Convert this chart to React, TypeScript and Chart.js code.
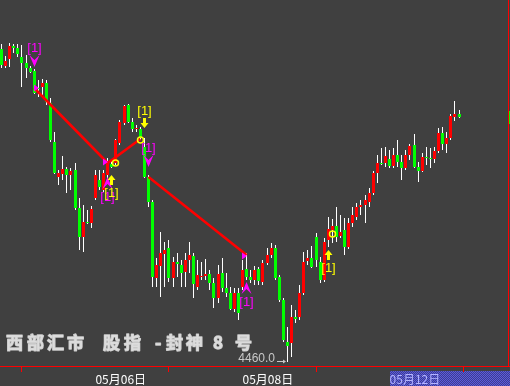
import React, { useEffect, useRef } from 'react';
import { Chart, registerables } from 'chart.js';

Chart.register(...registerables);

// ---- candle data (index 0..112) ----
const OPEN = [
  4616.5, 4608, 4611.5, 4618, 4617, 4612.5, 4609.5, 4607, 4605.5, 4597,
  4597.5, 4599.5, 4589.5, 4570, 4552.5, 4554, 4556.5, 4553.5, 4556, 4537,
  4522.5, 4530, 4529.5, 4542, 4551, 4546, 4553.5, 4559, 4559.5, 4569.5,
  4579.5, 4588.5, 4580, 4576.5, 4576.5, 4567.5, 4552.5, 4540, 4502, 4508,
  4514, 4517, 4502, 4510, 4508.5, 4505, 4511, 4513, 4497.5, 4502.5,
  4503, 4504, 4499.5, 4492, 4504.5, 4497, 4494.5, 4486.5, 4494.5, 4497.5,
  4506.5, 4502.5, 4501, 4506.5, 4500, 4509.5, 4513.5, 4517, 4502.5, 4491,
  4470, 4469.5, 4482.5, 4482.5, 4494.5, 4510.5, 4512, 4522.5, 4510, 4501,
  4521, 4526, 4528, 4523, 4526, 4517.5, 4529.5, 4532.5, 4537.5, 4538.5,
  4540, 4544.5, 4554.5, 4559.5, 4559.5, 4561.5, 4558, 4563.5, 4560, 4557,
  4563.5, 4568.5, 4557.5, 4555.5, 4562.5, 4562, 4561.5, 4565.5, 4574.5, 4569,
  4572, 4582.5, 4584,
];
const HIGH = [
  4619, 4613, 4619.5, 4619, 4619, 4618.5, 4613.5, 4608, 4606.5, 4601,
  4601.5, 4601, 4592, 4575, 4556, 4563, 4557.5, 4557, 4559.5, 4542,
  4538.5, 4536, 4538, 4556, 4556, 4556, 4562, 4561, 4571.5, 4581,
  4588.5, 4589, 4582, 4578.5, 4577.5, 4572, 4553.5, 4541, 4512, 4525,
  4520, 4521, 4512.5, 4514.5, 4511, 4514.5, 4520, 4514.5, 4511, 4510,
  4511.5, 4506, 4502, 4508.5, 4512, 4504.5, 4497.5, 4497, 4497, 4511,
  4514.5, 4506, 4508, 4507.5, 4511, 4517, 4519.5, 4518.5, 4503.5, 4492,
  4477.5, 4488.5, 4486, 4498.5, 4515, 4516, 4518, 4524.5, 4512.5, 4522,
  4532.5, 4531.5, 4537.5, 4533.5, 4532, 4532, 4537.5, 4539.5, 4541, 4543.5,
  4547, 4555.5, 4563.5, 4567, 4567.5, 4566, 4567, 4571, 4563.5, 4566,
  4569, 4574, 4560, 4564.5, 4567.5, 4567, 4567.5, 4577, 4577.5, 4575,
  4584, 4590.5, 4586,
];
const LOW = [
  4607, 4607, 4607.5, 4614.5, 4612.5, 4597.5, 4602, 4604.5, 4594, 4592.5,
  4592.5, 4588.5, 4570, 4554, 4548.5, 4551, 4544.5, 4546, 4536, 4516,
  4515, 4529, 4527, 4541, 4546, 4545, 4552, 4557, 4558.5, 4568.5,
  4578.5, 4579.5, 4575, 4575, 4571, 4552, 4537.5, 4497.5, 4497.5, 4492.5,
  4497.5, 4500, 4497.5, 4502.5, 4497.5, 4497.5, 4504.5, 4492, 4496, 4501,
  4501, 4496, 4487, 4489.5, 4495, 4492.5, 4486, 4485, 4481, 4496,
  4501, 4499.5, 4498.5, 4498.5, 4498.5, 4508.5, 4512, 4501, 4490, 4470,
  4460, 4462.5, 4479.5, 4481, 4493.5, 4508.5, 4507, 4507.5, 4499.5, 4500,
  4517.5, 4519.5, 4520, 4522, 4513.5, 4516.5, 4527.5, 4531, 4533.5, 4529.5,
  4537.5, 4543.5, 4549.5, 4558.5, 4557.5, 4557, 4557, 4557.5, 4551, 4556,
  4561, 4557, 4550, 4555, 4558.5, 4557, 4559.5, 4564.5, 4566, 4564.5,
  4571, 4580.5, 4582,
];
const CLOSE = [
  4608.5, 4610.5, 4618, 4617, 4614, 4609.5, 4607, 4605, 4594.5, 4596.5,
  4599.5, 4590, 4571, 4554.5, 4554.5, 4556.5, 4553.5, 4555.5, 4537, 4522.5,
  4530, 4529.5, 4536.5, 4553.5, 4547.5, 4554.5, 4560, 4557.5, 4571, 4580,
  4588, 4580, 4576.5, 4577, 4572, 4552.5, 4540, 4502.5, 4508.5, 4514.5,
  4516, 4502, 4510, 4509, 4504.5, 4511, 4513.5, 4499, 4503.5, 4503,
  4504, 4499.5, 4492, 4504, 4497, 4494.5, 4486.5, 4494.5, 4484.5, 4506,
  4502.5, 4501, 4506, 4500.5, 4509.5, 4513.5, 4517, 4502, 4491, 4471,
  4468, 4482.5, 4481.5, 4494.5, 4510, 4512, 4507.5, 4511, 4501, 4520,
  4526.5, 4528, 4522.5, 4525, 4517.5, 4529.5, 4533.5, 4537.5, 4538.5, 4541,
  4544.5, 4554.5, 4559.5, 4559, 4563, 4558, 4563.5, 4560, 4557, 4563.5,
  4568, 4557.5, 4555.5, 4562.5, 4562, 4561.5, 4565.5, 4574.5, 4569, 4572,
  4583, 4584, 4582.5,
];

// ---- x-axis date ticks (candle index of each day start) ----
const DATE_TICK_IDX = [23, 59, 95];
const DATE_LABELS = ['05月06日', '05月08日', '05月12日'];

// ---- zig-zag line (null = gap) ----
const ZIGZAG_IDX = [8, 26, 34, 35, 36, 60];
const ZIGZAG_VAL: (number | null)[] = [4597, 4559.5, 4571.5, null, 4552.5, 4513.5];

// ---- signal arrows "[1]" ----
const SIGNAL_IDX = [8, 35, 36, 26, 27, 60, 80];
const SIGNAL_VAL = [4607.5, 4577, 4557.5, 4552.5, 4553.5, 4500, 4516];
const SIGNAL_DIR = ['down', 'down', 'down', 'up', 'up', 'up', 'up'];
const SIGNAL_KIND = ['A', 'B', 'A', 'A', 'B', 'A', 'B'];
const SIGNAL_TEXT = '[1]';

// ---- small rings ----
const RING_IDX = [28, 34, 81];
const RING_VAL = [4559.5, 4571, 4524];

// ---- right-pointing flags ----
const FLAG_IDX = [9, 26, 60];
const FLAG_VAL = [4597, 4560, 4513];

const TITLE_CHARS = ['西', '部', '汇', '市', '股', '指', '-', '封', '神', '8', '号'];

const Y_MIN = 4458;
const Y_MAX = 4641;
const X_MIN = -0.367;
const X_MAX = 124.48;

const BG = '#404040';
const UP = '#ff0000';
const DOWN = '#00ff00';
const KIND_COLOR: Record<string, string> = { A: '#ff00ff', B: '#ffff00' };

const snapPlugin = {
  id: 'snap',
  afterDatasetsUpdate(chart: any) {
    chart.getSortedVisibleDatasetMetas().forEach((meta: any) => {
      if (meta.type !== 'bar') return;
      meta.data.forEach((el: any) => {
        el.x = Math.floor(el.x) + 0.5;
        el.y = Math.round(el.y);
        el.base = Math.round(el.base);
        if (Math.abs(el.y - el.base) < 1) el.y = el.base - 1;
      });
    });
  },
};

const overlayPlugin = {
  id: 'overlay',
  beforeDraw(chart: any) {
    const { ctx, width, height, chartArea } = chart;
    ctx.save();
    ctx.fillStyle = BG;
    ctx.fillRect(0, 0, width, height);
    const xs = chart.scales.x;
    const bx = Math.round(xs.getPixelForValue(DATE_TICK_IDX[DATE_TICK_IDX.length - 1]));
    const by = chartArea.bottom + 5;
    for (let yy = by; yy < height; yy++) {
      for (let xx = bx; xx < width; xx++) {
        ctx.fillStyle = (xx + yy) % 2 === 0 ? '#5858e0' : '#40408c';
        ctx.fillRect(xx, yy, 1, 1);
      }
    }
    ctx.restore();
  },
  afterDatasetsDraw(chart: any) {
    const { ctx, chartArea, width } = chart;
    const xs = chart.scales.x;
    const ys = chart.scales.y;
    ctx.save();

    ctx.fillStyle = '#ff00ff';
    FLAG_IDX.forEach((idx, k) => {
      const x = Math.floor(xs.getPixelForValue(idx)) + 1;
      const y = ys.getPixelForValue(FLAG_VAL[k]);
      ctx.beginPath();
      ctx.moveTo(x, y);
      ctx.lineTo(x - 5, y - 3.5);
      ctx.lineTo(x - 5, y + 3.5);
      ctx.closePath();
      ctx.fill();
    });

    ctx.strokeStyle = '#ffff00';
    ctx.lineWidth = 1.5;
    RING_IDX.forEach((idx, k) => {
      const x = Math.floor(xs.getPixelForValue(idx)) + 0.5;
      const y = ys.getPixelForValue(RING_VAL[k]);
      ctx.beginPath();
      ctx.arc(x, y, 3, 0, Math.PI * 2);
      ctx.stroke();
    });

    ctx.font = '13px "Liberation Sans", Arial, sans-serif';
    ctx.textAlign = 'center';
    ctx.textBaseline = 'middle';
    SIGNAL_IDX.forEach((idx, k) => {
      const x = Math.floor(xs.getPixelForValue(idx)) + 0.5;
      const y = ys.getPixelForValue(SIGNAL_VAL[k]);
      const kind = SIGNAL_KIND[k];
      const s = SIGNAL_DIR[k] === 'down' ? -1 : 1;
      ctx.fillStyle = KIND_COLOR[kind];
      ctx.beginPath();
      if (kind === 'A') {
        ctx.moveTo(x, y);
        ctx.lineTo(x - 5, y + s * 12);
        ctx.lineTo(x, y + s * 7);
        ctx.lineTo(x + 5, y + s * 12);
      } else {
        ctx.moveTo(x, y);
        ctx.lineTo(x - 4, y + s * 5);
        ctx.lineTo(x - 1.5, y + s * 5);
        ctx.lineTo(x - 1.5, y + s * 10);
        ctx.lineTo(x + 1.5, y + s * 10);
        ctx.lineTo(x + 1.5, y + s * 5);
        ctx.lineTo(x + 4, y + s * 5);
      }
      ctx.closePath();
      ctx.fill();
      const off = kind === 'A' ? (s < 0 ? 18.5 : 20) : (s < 0 ? 16.5 : 18.5);
      ctx.fillText(SIGNAL_TEXT, x, y + s * off);
    });

    // title text
    const TITLE_X = [6, 27, 47, 67, 103, 124, 155, 166, 186, 213, 235];
    ctx.font = 'bold 17px "Noto Sans CJK SC", sans-serif';
    ctx.textAlign = 'left';
    ctx.textBaseline = 'middle';
    ctx.fillStyle = '#dcdcdc';
    ctx.strokeStyle = '#c8c8c8';
    ctx.lineWidth = 1.3;
    ctx.lineJoin = 'round';
    TITLE_CHARS.forEach((ch, k) => {
      ctx.strokeText(ch, TITLE_X[k], 343);
      ctx.fillText(ch, TITLE_X[k], 343);
    });

    // lowest-low label
    let li = 0;
    LOW.forEach((v, i) => { if (v < LOW[li]) li = i; });
    const lx = Math.floor(xs.getPixelForValue(li));
    const ly = Math.round(ys.getPixelForValue(LOW[li]));
    ctx.strokeStyle = '#c8c8c8';
    ctx.fillStyle = '#c8c8c8';
    ctx.lineWidth = 1;
    ctx.beginPath();
    ctx.moveTo(lx - 10, ly - 0.5);
    ctx.lineTo(lx - 2, ly - 0.5);
    ctx.stroke();
    ctx.beginPath();
    ctx.moveTo(lx - 1, ly - 0.5);
    ctx.lineTo(lx - 4, ly - 2.5);
    ctx.lineTo(lx - 4, ly + 1.5);
    ctx.closePath();
    ctx.fill();
    ctx.font = '12px "Liberation Sans", Arial, sans-serif';
    ctx.textAlign = 'right';
    ctx.textBaseline = 'alphabetic';
    ctx.fillText(LOW[li].toFixed(1), lx - 12, ly);

    // right frame line + last price marker
    ctx.fillStyle = '#ff0000';
    ctx.fillRect(width - 2, 0, 1, chartArea.bottom);
    const lastY = ys.getPixelForValue(CLOSE[CLOSE.length - 1]);
    ctx.fillStyle = '#00ff00';
    ctx.fillRect(width - 1, Math.round(lastY - 6.5), 1, 13);
    ctx.restore();
  },
};

export default function App() {
  const ref = useRef<HTMLCanvasElement | null>(null);
  useEffect(() => {
    const canvas = ref.current;
    if (!canvas) return;
    const idx = OPEN.map((_, i) => i);
    const bodies = idx.map((i) => ({ x: i, y: [OPEN[i], CLOSE[i]] }));
    const wicks = idx.map((i) => ({ x: i, y: [LOW[i], HIGH[i]] }));
    const bodyColors = idx.map((i) => (CLOSE[i] > OPEN[i] ? UP : DOWN));
    const zig = ZIGZAG_IDX.map((x, k) => ({ x, y: ZIGZAG_VAL[k] }));

    const chart = new Chart(canvas, {
      type: 'bar',
      data: {
        datasets: [
          {
            type: 'line',
            data: zig as any,
            borderColor: '#ff0000',
            borderWidth: 2.5,
            pointRadius: 0,
            spanGaps: false,
            order: 0,
          } as any,
          {
            type: 'bar',
            data: bodies as any,
            backgroundColor: bodyColors,
            barThickness: 3,
            grouped: false,
            minBarLength: 1,
            inflateAmount: 0,
            borderWidth: 0,
            order: 1,
          } as any,
          {
            type: 'bar',
            data: wicks as any,
            backgroundColor: '#ffffff',
            barThickness: 1,
            grouped: false,
            minBarLength: 1,
            inflateAmount: 0,
            borderWidth: 0,
            order: 2,
          } as any,
        ],
      },
      options: {
        animation: false,
        responsive: false,
        devicePixelRatio: 1,
        events: [],
        layout: { padding: 0 },
        plugins: { legend: { display: false }, tooltip: { enabled: false } },
        scales: {
          x: {
            type: 'linear',
            min: X_MIN,
            max: X_MAX,
            offset: false,
            position: 'bottom',
            grid: {
              display: true,
              drawOnChartArea: false,
              drawTicks: true,
              tickLength: 6,
              color: '#ff0000',
              lineWidth: 1,
            },
            border: { display: true, color: '#ff0000', width: 1 },
            ticks: {
              autoSkip: false,
              maxRotation: 0,
              minRotation: 0,
              align: 'start',
              padding: 0,
              font: { family: '"Noto Sans CJK SC", sans-serif', size: 12, lineHeight: 14 / 12 },
              color: (c: any) => (c.index === DATE_TICK_IDX.length - 1 ? '#b4b4ff' : '#ffffff'),
              callback: (_v: any, i: number) => DATE_LABELS[i],
            },
            afterBuildTicks: (s: any) => {
              s.ticks = DATE_TICK_IDX.map((v) => ({ value: v }));
            },
          } as any,
          y: { display: false, min: Y_MIN, max: Y_MAX },
        },
      },
      plugins: [snapPlugin, overlayPlugin],
    });
    return () => chart.destroy();
  }, []);

  return (
    <div style={{ position: 'fixed', left: 0, top: 0, width: 510, height: 386, background: BG }}>
      <canvas ref={ref} width={510} height={386} style={{ display: 'block', width: 510, height: 386 }} />
    </div>
  );
}
